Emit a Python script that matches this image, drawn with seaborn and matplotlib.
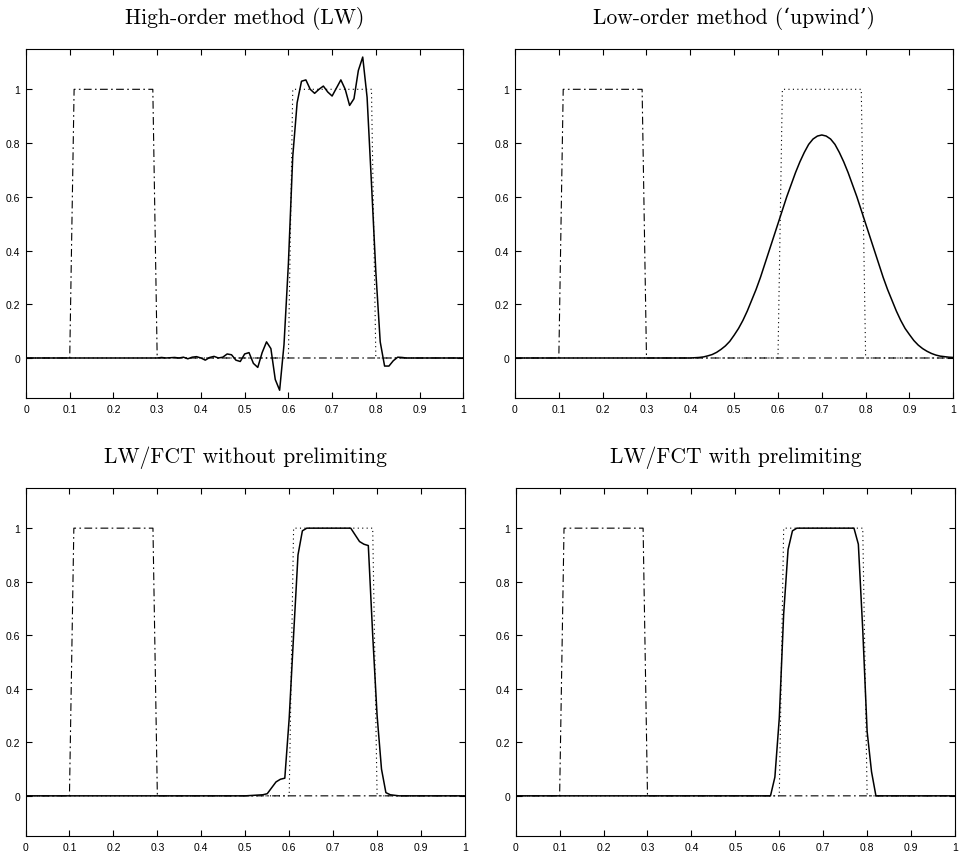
import numpy as np
import matplotlib
matplotlib.use("Agg")
import matplotlib.pyplot as plt
import seaborn as sns

# ---------------- data ----------------
titles = ["High-order method (LW)", "Low-order method (‘upwind’)",
          "LW/FCT without prelimiting", "LW/FCT with prelimiting"]

x_ticks = [0, 0.1, 0.2, 0.3, 0.4, 0.5, 0.6, 0.7, 0.8, 0.9, 1]
x_ticklabels = ["0", "0.1", "0.2", "0.3", "0.4", "0.5", "0.6", "0.7", "0.8", "0.9", "1"]
y_ticks = [0, 0.2, 0.4, 0.6, 0.8, 1]
y_ticklabels = ["0", "0.2", "0.4", "0.6", "0.8", "1"]

# initial profile (dash-dot) and exact solution (dotted)
x_init = [0.0, 0.10, 0.11, 0.29, 0.30, 1.0]
y_init = [0, 0, 1, 1, 0, 0]
x_exact = [0.0, 0.60, 0.61, 0.79, 0.80, 1.0]
y_exact = [0, 0, 1, 1, 0, 0]

# Lax-Wendroff
x_lw = [0.0] + [round(0.30 + 0.01 * i, 2) for i in range(58)] + [1.0]
y_lw = [0.0,
        0.0, 0.002, 0.0, 0.001, 0.002, 0.0, 0.003, -0.003, 0.003, 0.005,
        0.0, -0.008, 0.002, 0.006, 0.0, 0.003, 0.015, 0.012, -0.008, -0.013,
        0.015, 0.02, -0.02, -0.035, 0.02, 0.06, 0.035, -0.08, -0.12, 0.05,
        0.35, 0.75, 0.95, 1.03, 1.035, 1.0, 0.985, 1.0, 1.012, 0.99,
        0.975, 1.005, 1.035, 1.0, 0.94, 0.965, 1.07, 1.12, 0.97, 0.65,
        0.32, 0.06, -0.03, -0.03, -0.01, 0.003, 0.002, 0.0,
        0.0]

# upwind
x_up = [0.0] + [round(0.40 + 0.01 * i, 2) for i in range(61)]
y_up = [0.0,
        0.0, 0.001, 0.002, 0.004, 0.008, 0.013, 0.021, 0.032, 0.045, 0.062,
        0.085, 0.11, 0.14, 0.175, 0.215, 0.255, 0.30, 0.35, 0.40, 0.45,
        0.50, 0.55, 0.60, 0.645, 0.69, 0.73, 0.765, 0.795, 0.815, 0.826,
        0.83,
        0.826, 0.815, 0.795, 0.765, 0.73, 0.69, 0.645, 0.60, 0.55, 0.50,
        0.45, 0.40, 0.35, 0.30, 0.255, 0.215, 0.175, 0.14, 0.11, 0.087,
        0.065, 0.048, 0.035, 0.025, 0.017, 0.011, 0.007, 0.005, 0.003, 0.002]

# FCT without prelimiting
x_fct1 = [0.0] + [round(0.50 + 0.01 * i, 2) for i in range(36)] + [1.0]
y_fct1 = [0.0,
          0.0, 0.001, 0.002, 0.003, 0.004, 0.008, 0.03, 0.052, 0.062, 0.066,
          0.29, 0.6, 0.9, 0.99, 1.0,
          1.0, 1.0, 1.0, 1.0, 1.0, 1.0, 1.0, 1.0, 1.0, 1.0,
          0.975, 0.95, 0.94, 0.935, 0.6, 0.3, 0.1, 0.012, 0.004, 0.002, 0.0,
          0.0]

# FCT with prelimiting
x_fct2 = [0.0] + [round(0.58 + 0.01 * i, 2) for i in range(25)] + [1.0]
y_fct2 = [0.0,
          0.0, 0.07, 0.29, 0.68, 0.92, 0.99,
          1.0, 1.0, 1.0, 1.0, 1.0, 1.0, 1.0, 1.0, 1.0, 1.0, 1.0, 1.0, 1.0, 1.0,
          0.94, 0.62, 0.24, 0.09, 0.0,
          0.0]

solutions = [(x_lw, y_lw), (x_up, y_up), (x_fct1, y_fct1), (x_fct2, y_fct2)]

# ---------------- style ----------------
sns.set_style("white")
plt.rcParams["font.family"] = ["Liberation Sans", "DejaVu Sans"]

W, H = 963, 853
fig = plt.figure(figsize=(W / 100, H / 100), dpi=100)

# axes boxes in pixels: (left, top, right, bottom)
boxes = [(26, 50, 463.3, 399.3), (515, 50, 953.3, 399.3),
         (25.5, 489, 465, 837), (515.7, 489, 955, 837)]

dashdot = (0, (7, 3, 1.5, 3))
dotted = (0, (1, 3))

for i, (box, title, (xs, ys)) in enumerate(zip(boxes, titles, solutions)):
    l, t, r, b = box
    ax = fig.add_axes([l / W, 1 - b / H, (r - l) / W, (b - t) / H])
    sns.lineplot(x=x_exact, y=y_exact, ax=ax, color="black", lw=0.8,
                 linestyle=dotted, estimator=None)
    sns.lineplot(x=x_init, y=y_init, ax=ax, color="black", lw=0.8,
                 linestyle=dashdot, estimator=None)
    sns.lineplot(x=xs, y=ys, ax=ax, color="black", lw=1.1,
                 linestyle="-", estimator=None)
    ax.set_xlim(0, 1)
    ax.set_ylim(-0.15, 1.15)
    ax.set_xticks(x_ticks)
    ax.set_xticklabels(x_ticklabels)
    ax.set_yticks(y_ticks)
    ax.set_yticklabels(y_ticklabels)
    ax.set_xlabel("")
    ax.set_ylabel("")
    ax.tick_params(direction="in", length=4, width=0.8, colors="black",
                   labelsize=7.5, top=True, right=True, bottom=True, left=True,
                   pad=4)
    for s in ax.spines.values():
        s.set_visible(True)
        s.set_color("black")
        s.set_linewidth(0.8)
    ax.set_title(title, family=["cmr10", "DejaVu Serif"], fontsize=15.5,
                 pad=19, color="black")

fig.savefig("out.png", dpi=100, facecolor="white")
